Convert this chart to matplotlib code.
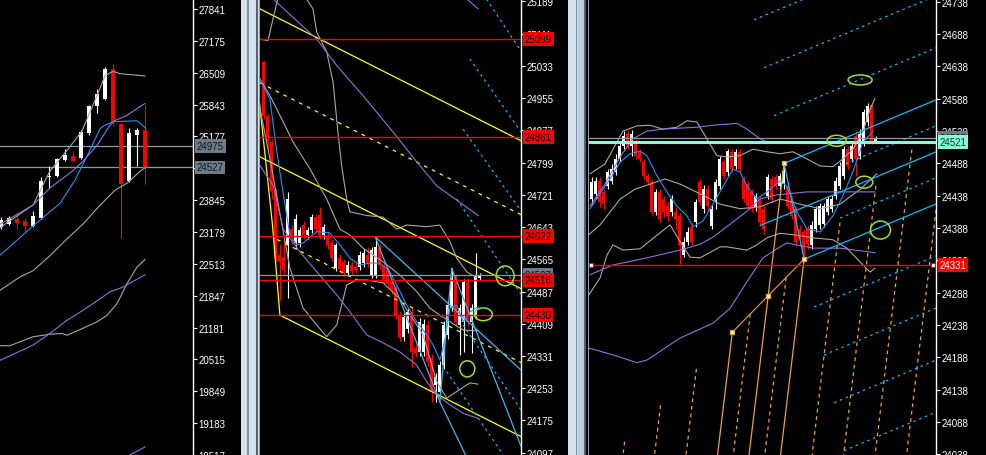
import numpy as np
import matplotlib.pyplot as plt
from matplotlib.patches import Rectangle, Ellipse

plt.rcParams['font.family'] = 'Liberation Sans'

W, H = 986, 456

# ---------------- left panel (daily) ----------------
left_open = [23284, 23346, 23450, 23408, 23304, 23471, 24324, 24345, 24678, 24761,
             24720, 25254, 25808, 25968, 26578, 25427, 24241, 25198, 25317]
left_high = [23491, 23512, 23533, 23471, 23617, 24324, 24553, 24720, 24907, 24871,
             25302, 25843, 26162, 26620, 26696, 25469, 25344, 25344, 25829]
left_low = [23242, 23325, 23242, 23200, 23284, 23450, 24095, 24324, 24657, 24657,
            24699, 25204, 25670, 25933, 25392, 23055, 24220, 24559, 24185]
left_close = [23429, 23471, 23367, 23304, 23512, 24247, 24345, 24699, 24782, 24663,
              25275, 25808, 26058, 26592, 25483, 24185, 25240, 25302, 24511]

left_fast_x = [-0.2, 4, 6.1, 8.25, 10.1, 12, 13, 14, 14.9, 18]
left_fast_y = [23263, 23741, 24449, 24886, 25281, 26030, 26447, 26536, 26488, 26440]
left_blue_x = [-0.2, 4, 7.4, 9.25, 10.75, 12.4, 13, 14, 17, 18.1]
left_blue_y = [22680, 23304, 23783, 24262, 24761, 25344, 25412, 25483, 25504, 25344]
left_purple_x = [-0.2, 4, 6.1, 8.9, 10.25, 12, 13.6, 14.25, 15.75, 17, 18]
left_purple_y = [23331, 23741, 24095, 24449, 24657, 24990, 25406, 25510, 25614, 25760, 25864]
left_slow_x = [-0.2, 2.4, 4, 6.1, 8.25, 10.25, 12.4, 14.25, 15.75, 17.4, 18.1]
left_slow_y = [21951, 22243, 22368, 22680, 23034, 23346, 23741, 24053, 24199, 24449, 24532]
left_grey2_x = [-0.2, 1.1, 4, 6.1, 7.6, 8.25, 9.9, 12, 13.25, 14.5, 15.75, 17, 18]
left_grey2_y = [20801, 20801, 20988, 21042, 21057, 21021, 21140, 21300, 21437, 21681,
                22097, 22445, 22603]
left_purple2_x = [-0.2, 4, 6.1, 8.25, 10.25, 12.4, 13.6, 15.25, 18]
left_purple2_y = [20489, 20814, 21057, 21334, 21541, 21785, 21924, 22028, 22284]
left_purple3_x = [16.1, 18]
left_purple3_y = [18517, 18684]

left_levels = [24975, 24527]
left_ticks = [27841, 27175, 26509, 25843, 25177, 24511, 23845, 23179, 22513, 21847,
              21181, 20515, 19849, 19183, 18517]

# ---------------- middle panel ----------------
mid_open = [25043, 24912, 24849, 24728, 24575, 24571, 24600, 24638, 24605, 24605,
            24648, 24624, 24636, 24667, 24672, 24624, 24624, 24605, 24544, 24568,
            24559, 24532, 24551, 24546, 24546, 24556, 24575, 24527, 24527, 24592,
            24551, 24539, 24510, 24496, 24430, 24377, 24396, 24438, 24350, 24341,
            24341, 24406, 24326, 24261, 24244, 24309, 24382, 24447, 24520, 24406,
            24413, 24510, 24413, 24430, 24520]
mid_high = [25047, 24917, 24856, 24735, 24602, 24614, 24728, 24648, 24675, 24643,
            24658, 24643, 24675, 24675, 24692, 24650, 24634, 24614, 24605, 24578,
            24566, 24561, 24561, 24556, 24585, 24590, 24595, 24595, 24619, 24602,
            24561, 24546, 24517, 24503, 24440, 24435, 24447, 24447, 24360, 24423,
            24421, 24416, 24336, 24290, 24319, 24416, 24464, 24544, 24530, 24457,
            24517, 24520, 24457, 24580, 24532]
mid_low = [24905, 24832, 24711, 24561, 24467, 24530, 24471, 24602, 24590, 24595,
           24614, 24614, 24629, 24629, 24614, 24614, 24590, 24561, 24537, 24532,
           24525, 24525, 24530, 24532, 24539, 24546, 24546, 24520, 24520, 24542,
           24505, 24496, 24481, 24421, 24367, 24367, 24387, 24304, 24329, 24331,
           24331, 24307, 24220, 24220, 24234, 24300, 24372, 24440, 24404, 24333,
           24341, 24404, 24338, 24421, 24515]
mid_close = [24912, 24849, 24730, 24568, 24561, 24539, 24711, 24619, 24663, 24636,
             24624, 24636, 24667, 24638, 24624, 24643, 24600, 24568, 24600, 24542,
             24532, 24551, 24537, 24539, 24575, 24580, 24556, 24588, 24595, 24551,
             24515, 24505, 24491, 24430, 24377, 24425, 24438, 24341, 24338, 24413,
             24408, 24317, 24244, 24280, 24309, 24406, 24454, 24520, 24413, 24447,
             24510, 24413, 24447, 24527, 24527]

mid_bbup_x = [-0.875, 1.125, 2.375, 4.125, 9.125, 12.375, 13.3, 15.8, 17.4, 18.6, 19.55,
              20.8, 21.6, 25.8, 29.9, 33.3, 35.8, 40.8, 44.1, 46.6, 48.3, 50.8, 53.3]
mid_bbup_y = [25098, 25094, 25147, 25219, 25219, 25171, 25115, 25067, 24994, 24873, 24791,
              24711, 24680, 24671, 24667, 24638, 24648, 24644, 24648, 24608, 24568, 24535, 24520]
mid_bbmid_x = [-0.875, 1.625, 4.125, 7.4, 11.6, 15.8, 19.1, 21.6, 24.9, 29.9, 34.1, 38.3,
               41.6, 44.1, 46.6, 49.95, 53.7]
mid_bbmid_y = [25001, 24961, 24913, 24849, 24784, 24711, 24638, 24624, 24592, 24559, 24527,
               24487, 24447, 24430, 24414, 24394, 24392]
mid_bblow_x = [-0.875, 1.625, 4.125, 6.6, 9.9, 13.3, 15.8, 18.3, 20.8, 23.3, 25.8, 29.9,
               34.1, 39.9, 43.3, 45.8, 48.3, 51.6, 53.6]
mid_bblow_y = [24929, 24808, 24675, 24544, 24447, 24406, 24378, 24406, 24503, 24515, 24515,
               24508, 24469, 24382, 24269, 24229, 24245, 24266, 24263]
mid_purple_x = [1.1, 2.4, 13.3, 18.3, 24.9, 32.4, 38.3, 43.3, 53.7]
mid_purple_y = [25219, 25195, 25098, 25034, 24961, 24873, 24801, 24743, 24671]
mid_purple_top_x = [49.1, 50.8, 53.7]
mid_purple_top_y = [25207, 25195, 25171]
mid_purple2_x = [-0.875, 2.45, 4.95, 9.1, 13.3, 18.3, 21.6, 25.8, 29.9, 34.1, 38.3, 40.8,
                 43.3, 46.6, 49.95, 53.7]
mid_purple2_y = [24792, 24743, 24638, 24583, 24535, 24479, 24438, 24382, 24363, 24341,
                 24309, 24269, 24237, 24213, 24192, 24180]
mid_blue_x = [-0.875, 1.6, 2.9, 4.1, 5.8, 6.6, 8.3, 9.95, 13.3, 16.6, 19.1, 21.6, 24.1,
              26.6, 29.1, 31.6, 33.3, 35.8, 38.3, 40.8, 42.4, 44.1, 45.4, 46.6, 48.3,
              49.95, 51.6, 53.7]
mid_blue_y = [25001, 24953, 24856, 24776, 24671, 24624, 24600, 24605, 24632, 24629, 24600,
              24568, 24551, 24556, 24556, 24535, 24503, 24454, 24414, 24382, 24358, 24321,
              24372, 24447, 24454, 24414, 24438, 24450]

# yellow channel: (x0, y0, x1, y1, dashed)
mid_channel = [(-0.875, 25171, 64.4, 24852, False),
               (-0.875, 24992, 64.4, 24673, True),
               (-0.875, 24813, 64.4, 24494, False),
               (3.4, 24613, 64.4, 24315, True),
               (4.1, 24430, 64.4, 24136, False)]
mid_steep_x = [-1.1, 2.25, 4.1]
mid_steep_y = [24953, 24648, 24430]

# light blue solid segments and dotted lines
mid_cyan = [((27.9, 24620), (44.1, 24220)), ((44.1, 24220), (47.05, 24543)),
            ((27.9, 24620), (64.4, 24297)), ((47.05, 24543), (64.4, 24112)),
            ((44.1, 24220), (51.6, 24070))]
mid_dots = [((54.9, 25207), (64.4, 25069)), ((51.6, 25050), (64.4, 24873)),
            ((49.9, 24880), (64.4, 24682)), ((48.3, 24711), (64.4, 24481)),
            ((49.9, 24406), (64.4, 24200)), ((45.8, 24293), (59.9, 24092))]
mid_rings = [(60.4, 24525, 4.5, 48), (54.95, 24432, 4.5, 31), (50.95, 24300, 3.75, 39)]

mid_levels = [25099, 24861, 24622, 24516, 24430]
mid_grey_level = 24527
mid_ticks = [25189, 25111, 25033, 24955, 24877, 24799, 24721, 24643, 24565, 24487,
             24409, 24331, 24253, 24175, 24097]

# ---------------- right panel ----------------
right_open = [24433, 24441, 24461, 24444, 24453, 24461, 24475, 24495, 24515, 24533,
              24515, 24521, 24506, 24490, 24469, 24459, 24413, 24444, 24433, 24422,
              24413, 24413, 24407, 24346, 24367, 24390, 24397, 24459, 24418, 24448,
              24391, 24428, 24453, 24490, 24475, 24506, 24484, 24506, 24464, 24456,
              24444, 24421, 24433, 24418, 24438, 24464, 24467, 24453, 24456, 24453,
              24433, 24418, 24387, 24382, 24387, 24362, 24387, 24393, 24394, 24413,
              24418, 24438, 24453, 24469, 24510, 24495, 24530, 24500, 24521, 24552,
              24578, 24523]
right_high = [24467, 24467, 24467, 24448, 24479, 24487, 24503, 24521, 24538, 24540,
              24540, 24526, 24510, 24495, 24473, 24464, 24448, 24448, 24438, 24428,
              24439, 24421, 24411, 24374, 24390, 24396, 24433, 24464, 24455, 24455,
              24424, 24464, 24500, 24495, 24510, 24510, 24510, 24510, 24469, 24461,
              24448, 24442, 24438, 24424, 24472, 24469, 24472, 24473, 24487, 24458,
              24438, 24422, 24393, 24387, 24393, 24399, 24422, 24427, 24427, 24438,
              24439, 24467, 24490, 24515, 24515, 24521, 24535, 24541, 24572, 24581,
              24581, 24530]
right_low = [24425, 24433, 24421, 24418, 24448, 24456, 24470, 24490, 24510, 24510,
             24500, 24495, 24490, 24464, 24455, 24408, 24408, 24397, 24405, 24399,
             24407, 24387, 24333, 24343, 24362, 24362, 24390, 24424, 24411, 24414,
             24387, 24418, 24448, 24464, 24469, 24475, 24479, 24472, 24428, 24418,
             24413, 24414, 24393, 24379, 24433, 24428, 24448, 24448, 24448, 24418,
             24402, 24362, 24362, 24340, 24356, 24356, 24382, 24387, 24390, 24408,
             24413, 24433, 24448, 24464, 24479, 24490, 24469, 24495, 24515, 24546,
             24518, 24521]
right_close = [24459, 24461, 24428, 24425, 24475, 24479, 24495, 24515, 24530, 24515,
               24533, 24500, 24495, 24469, 24459, 24413, 24444, 24402, 24413, 24407,
               24433, 24402, 24362, 24367, 24382, 24367, 24428, 24428, 24448, 24422,
               24418, 24459, 24495, 24469, 24507, 24479, 24506, 24479, 24433, 24422,
               24418, 24438, 24397, 24387, 24467, 24433, 24453, 24469, 24476, 24422,
               24407, 24367, 24371, 24348, 24363, 24393, 24418, 24422, 24422, 24433,
               24433, 24461, 24484, 24510, 24484, 24515, 24495, 24533, 24568, 24577,
               24521, 24527]

right_blue_x = [-0.4, 2.1, 4.6, 7.1, 9.6, 12.1, 13.8, 16.3, 18.8, 21.3, 23.8, 25.3, 27.8,
                30.3, 32.8, 35.3, 37.1, 38.8, 41.3, 43.8, 47.1, 48.8, 51.3, 53.8, 57.1,
                60.3, 62.8, 65.3, 67.8, 70.3]
right_blue_y = [24418, 24441, 24464, 24490, 24503, 24507, 24500, 24469, 24444, 24422,
                24407, 24390, 24399, 24425, 24452, 24479, 24475, 24453, 24433, 24444,
                24461, 24453, 24413, 24387, 24382, 24407, 24438, 24475, 24521, 24537]
right_purple_x = [-0.4, 3.3, 7.1, 10.3, 13.8, 17.8, 26.3, 30.3, 36.3, 38.8, 42.1, 44.1, 52.6]
right_purple_y = [24422, 24456, 24498, 24526, 24538, 24541, 24544, 24547, 24550, 24541,
                  24526, 24520, 24520]
right_purple2_x = [-0.4, 5.3, 13.8, 22.1, 27.1, 30.3, 34.6, 38.8, 42.1, 45.8, 53.8, 70.8]
right_purple2_y = [24316, 24331, 24342, 24354, 24363, 24374, 24394, 24414, 24433, 24439,
                   24444, 24444]
right_purple3_x = [-0.9, 5.3, 11.3, 13.8, 22.1, 30.3, 34.6, 38.8, 42.8, 47.1, 48.8, 55.3,
                   62.1, 70.8]
right_purple3_y = [24203, 24192, 24180, 24184, 24218, 24241, 24264, 24305, 24342, 24359,
                   24365, 24357, 24357, 24350]
right_bbup_x = [-0.4, 3.3, 7.8, 11.3, 14.6, 17.8, 21.3, 23.8, 26.3, 28.8, 31.3, 33.8, 37.1,
                40.3, 43.8, 47.1, 50.3, 53.8, 57.1, 60.3, 62.8, 65.3, 67.8, 69.6, 70.8]
right_bbup_y = [24472, 24487, 24538, 24546, 24547, 24541, 24544, 24554, 24552, 24526,
                24500, 24498, 24500, 24510, 24506, 24503, 24506, 24495, 24484, 24483,
                24495, 24510, 24537, 24572, 24588]
right_bbmid_x = [-0.9, 2.1, 4.6, 7.1, 10.8, 14.6, 18.3, 22.1, 27.1, 32.1, 37.1, 42.1,
                 47.1, 52.1, 57.1, 62.1, 67.1, 71.3]
right_bbmid_y = [24377, 24393, 24413, 24433, 24448, 24456, 24464, 24456, 24441, 24425,
                 24418, 24421, 24433, 24425, 24418, 24425, 24448, 24472]
right_bblow_x = [-0.9, 2.1, 3.8, 5.3, 7.8, 12.1, 16.3, 19.6, 22.1, 24.6, 27.1, 32.1, 33.8,
                 38.8, 41.3, 43.8, 47.1, 51.3, 55.3, 60.3, 63.8, 67.8, 69.6, 70.8]
right_bblow_y = [24283, 24311, 24346, 24362, 24354, 24356, 24377, 24393, 24367, 24343,
                 24342, 24359, 24359, 24354, 24362, 24373, 24380, 24377, 24373, 24370,
                 24357, 24331, 24320, 24326]

# pitchfork anchors (bar, price)
fork_a = (35.15, 24227)
fork_b = (48.1, 24488)
fork_c = (53.1, 24340)
fork2_a = (42.1, 24392)
orange_solid = [0, 2]
orange_dashed = [-3, -2, -1, 0.5, 1.5, 3, 4, 5, 6]
cyan_solid = [0, 2]
cyan_dotted = [-3, -2, -1, 3, 4, 5, 6]
cyan_half = [0.5, 1.5]

right_rings = [(67.1, 24617, 6.0, 15.5), (61.25, 24523, 4.75, 17),
               (68.15, 24459, 4.25, 18.5), (72.2, 24385, 5.0, 27.8)]
right_grey_level = 24527
right_cyan_level = 24521
right_red_level = 24331
right_ticks = [24738, 24688, 24638, 24588, 24538, 24488, 24438, 24388, 24338, 24288,
               24238, 24188, 24138, 24088, 24038]

GREY = '#a8a8a8'
PURPLE = '#9370db'
BLUE = '#1e90ff'
SKY = '#00bfff'
ORANGE = '#f0a22e'
RING = '#9fe02a'


def fx(px):
    return px / W


def setup(ax, ylim, xlim, ticks):
    ax.set_facecolor('black')
    ax.set_xlim(*xlim)
    ax.set_ylim(*ylim)
    for s in ['top', 'left', 'bottom']:
        ax.spines[s].set_visible(False)
    ax.spines['right'].set_color('white')
    ax.spines['right'].set_linewidth(1)
    ax.set_xticks([])
    ax.yaxis.tick_right()
    ax.set_yticks(ticks)
    ax.set_yticklabels([str(t) for t in ticks])
    ax.tick_params(axis='y', direction='out', length=3, width=0.8, colors='white',
                   labelsize=7, pad=1)


def candles(ax, o, h, l, c, width, minh):
    o, h, l, c = map(np.asarray, (o, h, l, c))
    x = np.arange(len(o))
    cols = np.where(c >= o, 'white', 'red')
    ax.vlines(x, l, h, colors=cols, lw=0.8, zorder=3)
    ax.bar(x, np.maximum(np.abs(c - o), minh), width, bottom=np.minimum(o, c),
           color=cols, linewidth=0, zorder=3)


def box(ax, price, text, fc, tc='black', z=6):
    ax.annotate(text, xy=(1, price), xycoords=ax.get_yaxis_transform(),
                xytext=(2.6, 0), textcoords='offset points', ha='left', va='center',
                fontsize=7, color=tc, zorder=z, annotation_clip=False,
                bbox=dict(boxstyle='square,pad=0.2', fc=fc, ec='none'))


fig = plt.figure(figsize=(W / 100, H / 100), dpi=100, facecolor='black')

axL = fig.add_axes([0, 0, fx(193), 1])
axM = fig.add_axes([fx(260), 0, fx(521 - 260), 1])
axR = fig.add_axes([fx(589), 0, fx(936 - 589), 1])

# ---- left
setup(axL, (18558.5, 28049), (-0.125, 24), left_ticks)
candles(axL, left_open, left_high, left_low, left_close, 0.62, 21)
axL.plot(left_fast_x, left_fast_y, color=GREY, lw=0.8, zorder=4)
axL.plot(left_blue_x, left_blue_y, color=BLUE, lw=0.8, zorder=4)
axL.plot(left_purple_x, left_purple_y, color=PURPLE, lw=0.8, zorder=4)
axL.plot(left_slow_x, left_slow_y, color=GREY, lw=0.8, zorder=4)
axL.plot(left_grey2_x, left_grey2_y, color=GREY, lw=0.8, zorder=4)
axL.plot(left_purple2_x, left_purple2_y, color=PURPLE, lw=0.8, zorder=4)
axL.plot(left_purple3_x, left_purple3_y, color=PURPLE, lw=0.8, zorder=4)
for lv in left_levels:
    axL.axhline(lv, color='#8b98a5', lw=0.9, zorder=2)
    box(axL, lv, str(lv), '#6d7a87', '#101418')

# ---- middle
setup(axM, (24091.5, 25195), (-0.875, 64.375), mid_ticks)
candles(axM, mid_open, mid_high, mid_low, mid_close, 0.65, 2.4)
for x0, y0, x1, y1, dashed in mid_channel:
    axM.plot([x0, x1], [y0, y1], color='yellow', lw=0.9, zorder=4,
             ls=(0, (3, 4)) if dashed else '-')
axM.plot(mid_steep_x, mid_steep_y, color='yellow', lw=0.9, zorder=4)
axM.plot(mid_bbup_x, mid_bbup_y, color=GREY, lw=0.8, zorder=4)
axM.plot(mid_bbmid_x, mid_bbmid_y, color=GREY, lw=0.8, zorder=4)
axM.plot(mid_bblow_x, mid_bblow_y, color=GREY, lw=0.8, zorder=4)
axM.plot(mid_purple_x, mid_purple_y, color=PURPLE, lw=0.8, zorder=4)
axM.plot(mid_purple_top_x, mid_purple_top_y, color=PURPLE, lw=0.8, zorder=4)
axM.plot(mid_purple2_x, mid_purple2_y, color=PURPLE, lw=0.8, zorder=4)
axM.plot(mid_blue_x, mid_blue_y, color=BLUE, lw=0.8, zorder=4)
for (x0, y0), (x1, y1) in mid_cyan:
    axM.plot([x0, x1], [y0, y1], color='#3cb8f0', lw=0.9, zorder=4)
for (x0, y0), (x1, y1) in mid_dots:
    axM.plot([x0, x1], [y0, y1], color=SKY, lw=0.9, ls=(0, (2, 3)), zorder=4)
for cx, cy, w, h in mid_rings:
    axM.add_patch(Ellipse((cx, cy), w, h, fill=False, ec=RING, lw=1.1, zorder=5))
axM.axhline(mid_grey_level, color='#8b98a5', lw=0.9, zorder=4)
box(axM, mid_grey_level, str(mid_grey_level), '#6d7a87', '#101418', z=6)
for lv in mid_levels:
    axM.axhline(lv, color='red', lw=1.0, zorder=4)
    box(axM, lv, str(lv), 'red', 'black', z=7)

# ---- right
setup(axR, (24037.2, 24742.2), (-0.675, 86.075), right_ticks)
candles(axR, right_open, right_high, right_low, right_close, 0.65, 1.6)
axR.plot(right_bbup_x, right_bbup_y, color=GREY, lw=0.8, zorder=4)
axR.plot(right_bbmid_x, right_bbmid_y, color=GREY, lw=0.8, zorder=4)
axR.plot(right_bblow_x, right_bblow_y, color=GREY, lw=0.8, zorder=4)
axR.plot(right_purple_x, right_purple_y, color=PURPLE, lw=0.8, zorder=4)
axR.plot(right_purple2_x, right_purple2_y, color=PURPLE, lw=0.8, zorder=4)
axR.plot(right_purple3_x, right_purple3_y, color=PURPLE, lw=0.8, zorder=4)
axR.plot(right_blue_x, right_blue_y, color=BLUE, lw=0.8, zorder=4)

A, B, C, A2 = map(np.array, (fork_a, fork_b, fork_c, fork2_a))
ybot = 24000.0
xright = 86.5
# orange fork: handle B, tines through A and C
d1 = (A + C) / 2 - B


def to_bottom(p, d):
    s = (ybot - p[1]) / d[1]
    return p + s * d


def to_right(p, d):
    s = (xright - p[0]) / d[0]
    return p + s * d


e = to_bottom(B, d1)
axR.plot([B[0], e[0]], [B[1], e[1]], color=ORANGE, lw=0.9, zorder=4)
axR.plot([A[0], C[0]], [A[1], C[1]], color=ORANGE, lw=0.8, zorder=4)
for t in orange_solid + orange_dashed:
    p = A + t * (C - A) / 2
    e = to_bottom(p, d1)
    axR.plot([p[0], e[0]], [p[1], e[1]], color=ORANGE, lw=0.9, zorder=4,
             ls='-' if t in orange_solid else (0, (3, 3)))
# light blue fork: handle A2, tines through B and C
d2 = (B + C) / 2 - A2
e = to_right(A2, d2)
axR.plot([A2[0], e[0]], [A2[1], e[1]], color=SKY, lw=0.9, zorder=4)
axR.plot([B[0], C[0]], [B[1], C[1]], color=SKY, lw=0.9, zorder=4)
for k in cyan_solid + cyan_dotted:
    p = B + k * (C - B) / 2
    e = to_right(p, d2)
    axR.plot([p[0], e[0]], [p[1], e[1]], color=SKY, lw=0.9, zorder=4,
             ls='-' if k in cyan_solid else (0, (2, 3)))
for k in cyan_half:
    p = B + k * (C - B) / 2
    p = p + (62.1 - p[0]) / d2[0] * d2
    e = to_right(p, d2)
    axR.plot([p[0], e[0]], [p[1], e[1]], color=SKY, lw=0.9, zorder=4, ls=(0, (2, 3)))
for p in (A, (A + C) / 2, B, C):
    axR.plot(p[0], p[1], 's', ms=3.5, mfc='white', mec=ORANGE, mew=0.9, zorder=6)
for cx, cy, w, h in right_rings:
    axR.add_patch(Ellipse((cx, cy), w, h, fill=False, ec=RING, lw=1.1, zorder=5))

axR.axhline(right_grey_level, color='#8b98a5', lw=0.9, zorder=4)
box(axR, right_grey_level, str(right_grey_level), '#6d7a87', '#101418', z=6)
axR.axhline(right_cyan_level, color='#7fffd4', lw=2.2, zorder=4)
box(axR, right_cyan_level, str(right_cyan_level), '#7fffd4', '#103030', z=7)
axR.plot([-0.2, 85.3], [right_red_level] * 2, color='red', lw=1.0, zorder=4)
axR.plot([-0.2, 85.3], [right_red_level] * 2, 's', ms=3.5, mfc='white', mec='red',
         mew=0.8, zorder=6, clip_on=False)
box(axR, right_red_level, str(right_red_level), 'red', 'white', z=7)

# window separators
def strip(x0, x1, color):
    fig.add_artist(Rectangle((fx(x0), 0), fx(x1 - x0), 1, transform=fig.transFigure,
                             fc=color, ec='none', zorder=10))


strip(241, 259, '#d5e1ed')
strip(247, 248.5, '#8090a0')
strip(256, 258, '#58626c')
strip(259, 260, '#9aa0a6')
strip(568, 586, '#d5e1ed')
strip(575.5, 577, '#8090a0')
strip(578, 584, '#b9cde2')
strip(584, 586, '#58626c')
strip(587.5, 588.5, '#9aa0a6')

fig.savefig('out.png', dpi=100, facecolor='black')
